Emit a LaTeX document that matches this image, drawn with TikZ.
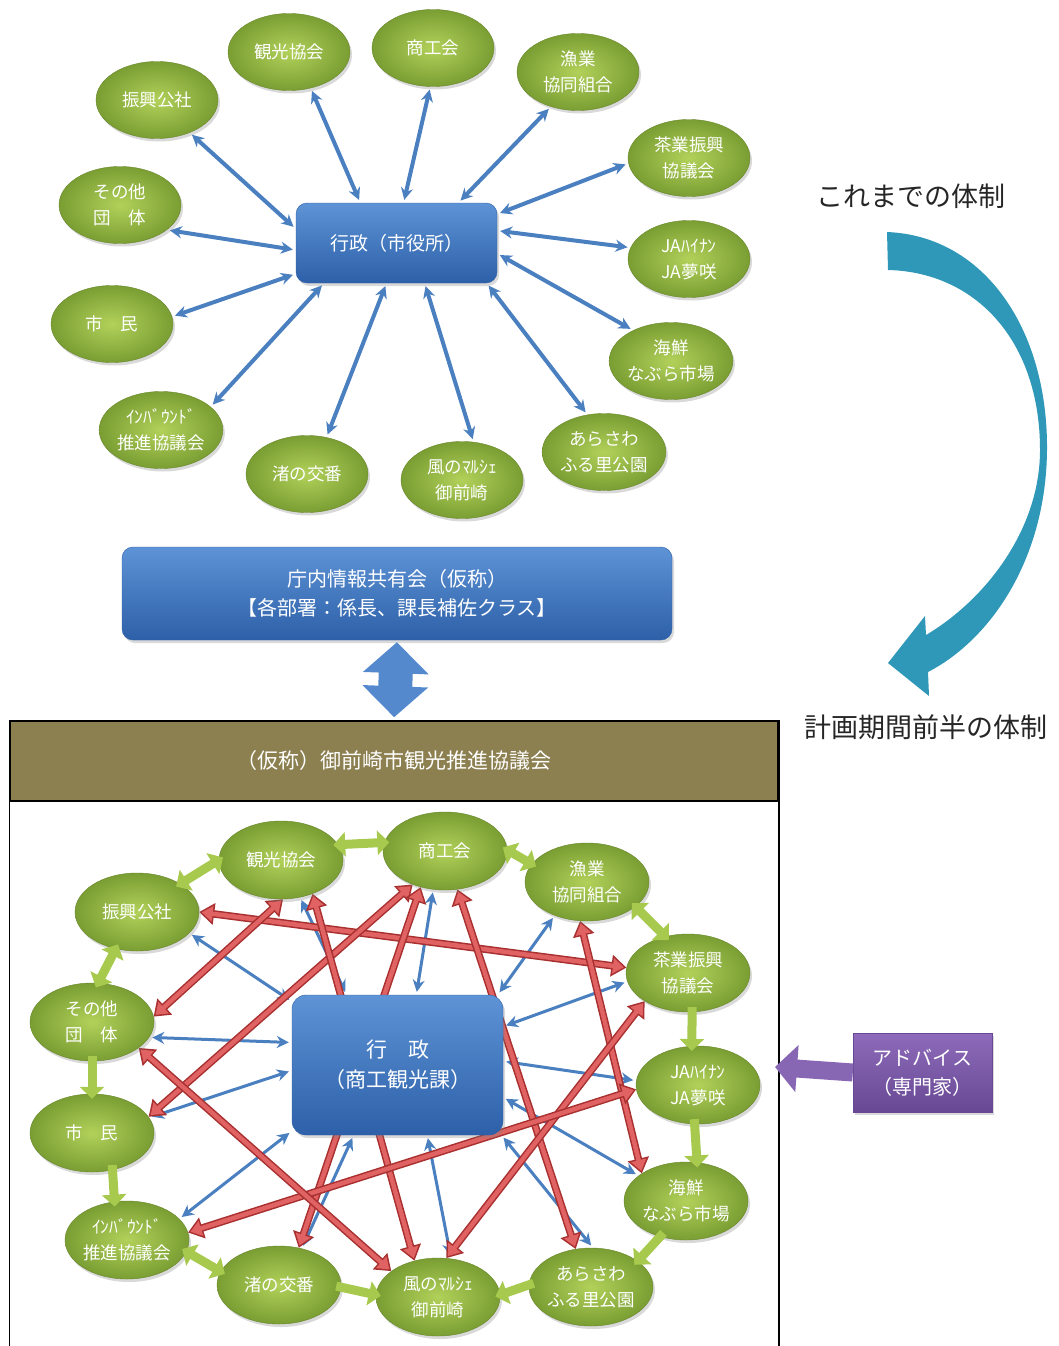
\documentclass[tikz,border=0pt]{standalone}
\usepackage{fontspec}
\newfontfamily\jp{Noto Sans CJK JP}
\usetikzlibrary{arrows.meta}
\usetikzlibrary{shapes.geometric}
\usetikzlibrary{shadows}
\usetikzlibrary{backgrounds}

\definecolor{orgin}{HTML}{B2D15A}
\definecolor{orgout}{HTML}{7A9E33}
\definecolor{boxtop}{HTML}{5E93D6}
\definecolor{boxbot}{HTML}{2D60A8}
\definecolor{linkblue}{HTML}{4A7FC0}
\definecolor{redlight}{HTML}{E06262}
\definecolor{reddark}{HTML}{A83030}
\definecolor{grnlink}{HTML}{A6C94E}
\definecolor{headolive}{HTML}{8C7F50}
\definecolor{flowteal}{HTML}{2F97B7}
\definecolor{advtop}{HTML}{8D6BBA}
\definecolor{advbot}{HTML}{684894}

\tikzset{org/.style={ellipse, inner color=orgin, outer color=orgout, draw=orgout!85!black, line width=0.4pt,
  minimum width=122pt, minimum height=77pt, inner sep=0pt, align=center, text=white,
  font=\jp\fontsize{17.5}{26}\selectfont, drop shadow={opacity=0.3, shadow xshift=2pt, shadow yshift=-3pt}},
%blue boxes
govbox/.style={rectangle, rounded corners=11pt, top color=boxtop, bottom color=boxbot, draw=boxbot,
  align=center, text=white, drop shadow={opacity=0.3, shadow xshift=2pt, shadow yshift=-3pt}},
bluearr/.style={draw=linkblue, line width=#1, {Stealth[length=12pt,width=12pt]}-{Stealth[length=12pt,width=12pt]},
  shorten <=3pt, shorten >=3pt},
bluearr/.default={3pt},
redarr/.style={draw=redlight, line width=4.5pt, {Triangle[width=15pt,length=11pt]}-{Triangle[width=15pt,length=11pt]},
  shorten <=2.5pt, shorten >=2.5pt,
  preaction={draw=reddark, line width=7.5pt, {Triangle[width=21pt,length=15pt]}-{Triangle[width=21pt,length=15pt]},
  shorten <=0pt, shorten >=0pt}},
grnarr/.style={draw=grnlink, line width=9pt, shorten <=-5pt, shorten >=-5pt},
grntip/.tip={Triangle[width=24pt,length=12pt]},
label/.style={font=\jp\fontsize{27}{27}\selectfont, text=black!85}}

\begin{document}
\begin{tikzpicture}[x=1pt,y=-1pt]
\useasboundingbox (0,0) rectangle (1058,1346);

% before
\node [govbox, minimum width=201pt, minimum height=80pt, font=\jp\fontsize{19}{24}\selectfont] (gyosei) at (396.5,243) {行政（市役所）};
\foreach \n/\x/\y/\t in {Shinko/157/100/振興公社, Kanko/289/52/観光協会, Shoko/433/48/商工会,
    Gyogyo/578/72/漁業\\協同組合, Chagyo/689/158/茶業振興\\協議会, Sonota/120/205/その他\\団　体,
    JA/689/259/JAﾊｲﾅﾝ\\JA夢咲, Shimin/112/324/市　民, Kaisen/671/361/海鮮\\なぶら市場,
    Inbound/161/430/ｲﾝﾊﾞｳﾝﾄﾞ\\推進協議会, Nagisa/307/474/渚の交番, Kaze/462/480/風のﾏﾙｼｪ\\御前崎,
    Arasawa/604/452/あらさわ\\ふる里公園}
  \node [org] (u\n) at (\x,\y) {\t};

\begin{scope}[on background layer]
\foreach \n/\a/\b in {Shinko/315/172, Kanko/301/132, Shoko/266/80, Gyogyo/232/33, Chagyo/185/16,
    Sonota/332/184, JA/169/7, Shimin/7/197, Kaisen/141/354, Inbound/25/209, Nagisa/62/256,
    Kaze/73/305, Arasawa/114/336}
  \draw [bluearr=4pt] (u\n.\a) -- (gyosei.\b);
\end{scope}

% shared meeting
\node [govbox, minimum width=550pt, minimum height=93pt, font=\jp\fontsize{20}{29}\selectfont] (chonai) at (397,593.5)
  {庁内情報共有会（仮称）\\【各部署：係長、課長補佐クラス】};
\node [rectangle, fill=headolive, draw=black, line width=1.5pt, minimum width=768pt, minimum height=80pt,
  text=white, font=\jp\fontsize{21}{21}\selectfont] (kyogikai) at (394,761) {（仮称）御前崎市観光推進協議会};
\draw [line width=1.5pt] (kyogikai.north west) -- ++(0,640);
\draw [line width=1.5pt] (kyogikai.north east) -- ++(0,640);
\draw [draw=boxtop!80!boxbot, line width=34pt, {Triangle[width=64pt,length=31pt]}-{Triangle[width=64pt,length=31pt]},
  shorten <=2pt, shorten >=3pt] (chonai.south) -- (kyogikai.north);

% after
\node [govbox, rounded corners=14pt, minimum width=211pt, minimum height=140pt, font=\jp\fontsize{21}{30}\selectfont]
  (gyoseiL) at (397.5,1065) {行　政\\（商工観光課）};
\foreach \n/\x/\y/\t in {Kanko/281/860/観光協会, Shoko/445/851/商工会, Gyogyo/587/882/漁業\\協同組合,
    Shinko/137/912/振興公社, Chagyo/688/973/茶業振興\\協議会, Sonota/92/1022/その他\\団　体,
    JA/698/1085/JAﾊｲﾅﾝ\\JA夢咲, Shimin/92/1133/市　民, Kaisen/686/1201/海鮮\\なぶら市場,
    Inbound/127/1240/ｲﾝﾊﾞｳﾝﾄﾞ\\推進協議会, Nagisa/279/1285/渚の交番, Kaze/438/1297/風のﾏﾙｼｪ\\御前崎,
    Arasawa/591/1287/あらさわ\\ふる里公園}
  \node [org, minimum width=124pt, minimum height=78pt] (l\n) at (\x,\y) {\t};

\begin{scope}[on background layer]
\foreach \n/\a/\b in {Shinko/338/149, Kanko/297/126, Shoko/253/75, Gyogyo/226/35, Chagyo/188/20,
    Sonota/345/168, Shimin/15/183, JA/176/2, Kaisen/152/343, Inbound/22/212, Nagisa/58/238,
    Kaze/71/293, Arasawa/87/326}
  \draw [bluearr] (l\n.\a) -- (gyoseiL.\b);
\foreach \p/\a/\q/\b in {Shinko/0/Chagyo/175, Kanko/273/Sonota/5, Shoko/226/Shimin/16, Kanko/313/Kaze/123,
    Shoko/236/Nagisa/62, Shoko/288/Arasawa/112, Gyogyo/260/Kaisen/148, Chagyo/213/Kaze/78,
    JA/184/Inbound/7, Sonota/331/Kaze/151}
  \draw [redarr] (l\p.\a) -- (l\q.\b);
\end{scope}

%ring
\foreach \p/\a/\q/\b in {Shinko/33/Kanko/180, Kanko/15/Shoko/172, Shoko/1/Gyogyo/162, Gyogyo/333/Chagyo/122,
    Inbound/349/Nagisa/167, Shinko/240/Sonota/81}
  \draw [grnarr, grntip-grntip] (l\p.\a) -- (l\q.\b);
\foreach \p/\a/\q/\b in {Chagyo/276/JA/99, JA/265/Kaisen/74, Kaisen/234/Arasawa/29, Arasawa/178/Kaze/2,
    Nagisa/358/Kaze/178, Shimin/299/Inbound/108, Sonota/270/Shimin/90}
  \draw [grnarr, -grntip] (l\p.\a) -- (l\q.\b);

% advice
\node [rectangle, top color=advtop, bottom color=advbot, draw=advbot, minimum width=139pt, minimum height=79pt,
  align=center, text=white, font=\jp\fontsize{20}{29}\selectfont,
  drop shadow={opacity=0.3, shadow xshift=2pt, shadow yshift=-3pt}] (advice) at (922.5,1072.5) {アドバイス\\（専門家）};
\coordinate (advtip) at (775,1067);
\draw [draw=advtop!85!advbot, line width=18pt, -{Triangle[width=46pt,length=22pt]}] (advice.west) -- (advtip);

%labels
\node [label] (before) at (911,196) {これまでの体制};
\node [label] (after) at (926,727) {計画期間前半の体制};
\fill [flowteal] (887,232) .. controls (985,236) and (1048,330) .. (1047,450)
  .. controls (1046,560) and (990,640) .. (928,672)
  -- (929,696) -- (888,663) -- (925,616) -- (926,635)
  .. controls (985,600) and (1040,530) .. (1040,450)
  .. controls (1040,340) and (975,272) .. (888,270) -- cycle;

\end{tikzpicture}
\end{document}
